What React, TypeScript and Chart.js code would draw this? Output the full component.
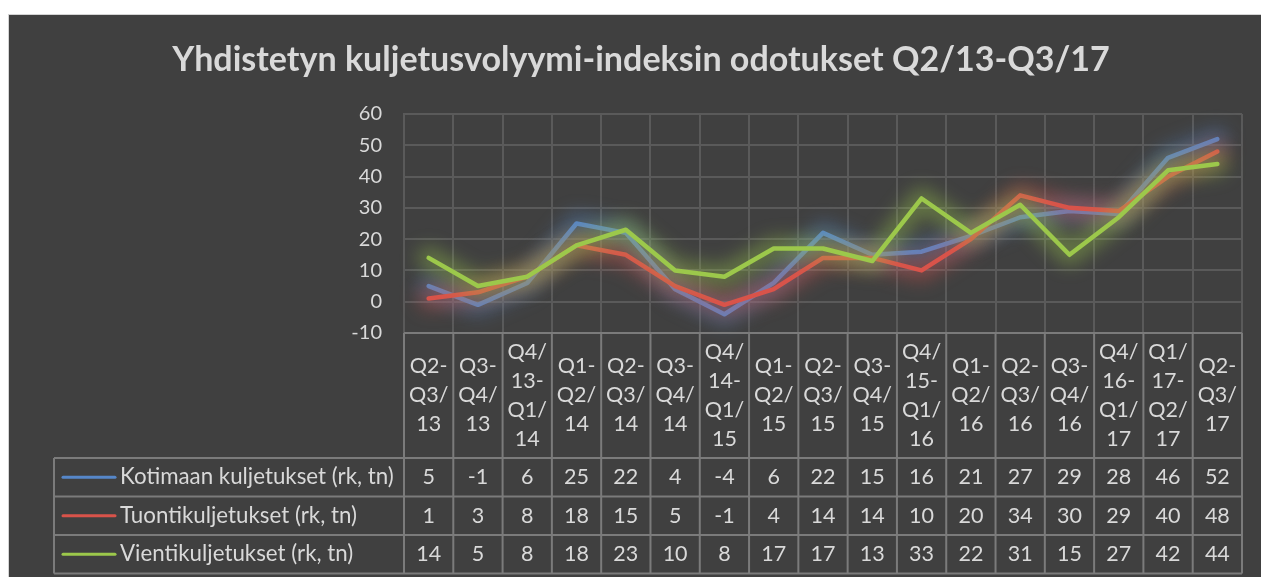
import React, { useEffect, useRef } from "react";
import { Chart, registerables } from "chart.js";

Chart.register(...registerables);

const TITLE = "Yhdistetyn kuljetusvolyymi-indeksin odotukset Q2/13-Q3/17";

const categories = [
  "Q2-Q3/13", "Q3-Q4/13", "Q4/13-Q1/14", "Q1-Q2/14", "Q2-Q3/14", "Q3-Q4/14",
  "Q4/14-Q1/15", "Q1-Q2/15", "Q2-Q3/15", "Q3-Q4/15", "Q4/15-Q1/16", "Q1-Q2/16",
  "Q2-Q3/16", "Q3-Q4/16", "Q4/16-Q1/17", "Q1/17-Q2/17", "Q2-Q3/17",
];

const kotimaan = [5, -1, 6, 25, 22, 4, -4, 6, 22, 15, 16, 21, 27, 29, 28, 46, 52];
const tuonti = [1, 3, 8, 18, 15, 5, -1, 4, 14, 14, 10, 20, 34, 30, 29, 40, 48];
const vienti = [14, 5, 8, 18, 23, 10, 8, 17, 17, 13, 33, 22, 31, 15, 27, 42, 44];

const seriesNames = [
  "Kotimaan kuljetukset (rk, tn)",
  "Tuontikuljetukset (rk, tn)",
  "Vientikuljetukset (rk, tn)",
];
const seriesValues = [kotimaan, tuonti, vienti];
const seriesColors = ["#5687c9", "#d9534a", "#9cc84b"];
const glowColors = ["rgba(86,135,201,0.4)", "rgba(217,83,74,0.4)", "rgba(156,200,75,0.4)"];

const Y_MIN = -10;
const Y_MAX = 60;
const Y_STEP = 10;

const FONT = "Lato, 'Liberation Sans', sans-serif";
const TEXT = "#d9d9d9";
const TABLE_LINE = "#7b7b7b";
const GRID = "#5a5a5a";

const splitLabel = (s: string) => s.match(/[^-/]+[-/]?/g) || [s];

const glowPlugin = {
  id: "glow",
  beforeDatasetDraw(chart: any, args: any) {
    const ctx = chart.ctx;
    const meta = chart.getDatasetMeta(args.index);
    const pts = meta.data;
    if (!pts || !pts.length) return;
    ctx.save();
    ctx.filter = "blur(9px)";
    ctx.strokeStyle = chart.data.datasets[args.index].glow;
    ctx.lineWidth = 22;
    ctx.lineJoin = "round";
    ctx.lineCap = "round";
    ctx.beginPath();
    pts.forEach((p: any, i: number) => {
      if (i === 0) ctx.moveTo(p.x, p.y);
      else ctx.lineTo(p.x, p.y);
    });
    ctx.stroke();
    ctx.restore();
  },
};

const fitFont = (ctx: any, text: string, weight: string, base: number, width: number) => {
  ctx.font = `${weight} ${base}px ${FONT}`;
  const w = ctx.measureText(text).width;
  return base * width / w;
};

const titlePlugin = {
  id: "customTitle",
  afterDraw(chart: any) {
    const ctx = chart.ctx;
    ctx.save();
    const size = fitFont(ctx, TITLE, "bold", 27, 938);
    ctx.font = `bold ${size}px ${FONT}`;
    ctx.fillStyle = TEXT;
    ctx.textAlign = "center";
    ctx.textBaseline = "middle";
    ctx.fillText(TITLE, chart.width / 2 + 6, 45);
    ctx.restore();
  },
};

const tablePlugin = {
  id: "dataTable",
  afterDraw(chart: any) {
    const ctx = chart.ctx;
    const xs = chart.scales.x;
    const area = chart.chartArea;
    const n = categories.length;
    const half = (xs.getPixelForValue(1) - xs.getPixelForValue(0)) / 2;
    const top = area.bottom;
    const headerBottom = top + 125;
    const rowH = 38.5;
    const legendLeft = 45;
    const tableBottom = headerBottom + rowH * seriesNames.length;

    ctx.save();
    ctx.strokeStyle = TABLE_LINE;
    ctx.lineWidth = 2;
    ctx.beginPath();
    ctx.moveTo(area.left, top);
    ctx.lineTo(area.right, top);
    for (let r = 0; r <= seriesNames.length; r++) {
      const y = headerBottom + r * rowH;
      ctx.moveTo(legendLeft, y);
      ctx.lineTo(area.right, y);
    }
    ctx.moveTo(legendLeft, headerBottom);
    ctx.lineTo(legendLeft, tableBottom);
    for (let i = 0; i <= n; i++) {
      const x = i < n ? xs.getPixelForValue(i) - half : xs.getPixelForValue(n - 1) + half;
      ctx.moveTo(x, top);
      ctx.lineTo(x, tableBottom);
    }
    ctx.stroke();

    ctx.fillStyle = TEXT;
    ctx.textAlign = "center";
    ctx.textBaseline = "middle";
    ctx.font = `21.5px ${FONT}`;
    const lh = 29;
    const hc = (top + headerBottom) / 2;
    categories.forEach((c, i) => {
      const lines = splitLabel(c);
      const x = xs.getPixelForValue(i);
      lines.forEach((ln, k) => {
        ctx.fillText(ln, x, hc + (k - (lines.length - 1) / 2) * lh);
      });
    });

    seriesValues.forEach((vals, r) => {
      const yc = headerBottom + r * rowH + rowH / 2;
      vals.forEach((v, i) => {
        ctx.fillText(String(v), xs.getPixelForValue(i), yc);
      });
    });

    const legSize = fitFont(ctx, seriesNames[0], "normal", 20, 274);
    ctx.font = `${legSize}px ${FONT}`;
    ctx.textAlign = "left";
    seriesNames.forEach((name, r) => {
      const yc = headerBottom + r * rowH + rowH / 2;
      ctx.strokeStyle = seriesColors[r];
      ctx.lineWidth = 3;
      ctx.lineCap = "round";
      ctx.beginPath();
      ctx.moveTo(54, yc);
      ctx.lineTo(106, yc);
      ctx.stroke();
      ctx.fillText(name, 111, yc);
    });
    ctx.restore();
  },
};

export default function App() {
  const ref = useRef<HTMLCanvasElement | null>(null);

  useEffect(() => {
    if (!ref.current) return;
    const orders = [2, 1, 0];
    const chart = new Chart(ref.current, {
      type: "line",
      data: {
        labels: categories,
        datasets: seriesValues.map((vals, i) => ({
          label: seriesNames[i],
          data: vals,
          borderColor: seriesColors[i],
          backgroundColor: seriesColors[i],
          borderWidth: 4.5,
          pointRadius: 0,
          tension: 0,
          order: orders[i],
          glow: glowColors[i],
          borderJoinStyle: "round",
          borderCapStyle: "round",
        })) as any,
      },
      options: {
        responsive: false,
        animation: false,
        layout: { padding: { top: 99, left: 0, right: 19, bottom: 244 } },
        plugins: {
          legend: { display: false },
          title: { display: false },
          tooltip: { enabled: false },
        },
        scales: {
          x: {
            type: "category",
            offset: true,
            grid: { color: GRID, lineWidth: 2, drawTicks: false, offset: true },
            border: { color: GRID, width: 2 },
            ticks: { display: false },
          },
          y: {
            min: Y_MIN,
            max: Y_MAX,
            afterFit(scale: any) {
              scale.width = 395;
            },
            grid: { color: GRID, lineWidth: 2, drawTicks: false },
            border: { color: GRID, width: 2 },
            ticks: {
              stepSize: Y_STEP,
              color: TEXT,
              padding: 22,
              font: { family: FONT, size: 20 },
            },
          },
        },
      },
      plugins: [glowPlugin, titlePlugin, tablePlugin],
    } as any);
    return () => chart.destroy();
  }, []);

  return (
    <div
      style={{
        position: "fixed",
        left: 8,
        top: 14,
        right: 0,
        bottom: 0,
        background: "#404040",
        borderTop: "1px solid #d4d4d4",
        borderLeft: "1px solid #d4d4d4",
      }}
    >
      <canvas ref={ref} width={1252} height={562} style={{ display: "block" }} />
    </div>
  );
}
